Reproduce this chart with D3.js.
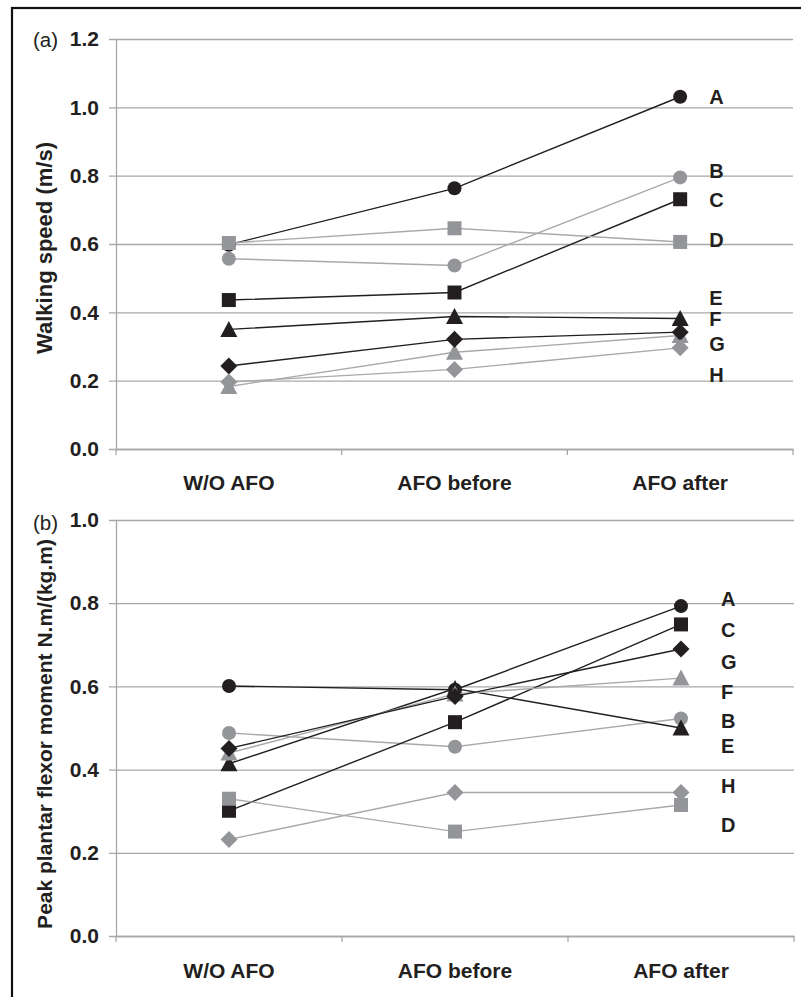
<!DOCTYPE html>
<html><head><meta charset="utf-8">
<script src="https://cdn.jsdelivr.net/npm/d3@7"></script>
<style>body{margin:0;background:#fff}svg{display:block;font-family:"Liberation Sans",Arial,Helvetica,sans-serif}</style>
</head><body>
<svg id="c" width="801" height="997"></svg>
<script>
// ---- data ----
const categories = ["W/O AFO", "AFO before", "AFO after"];
const seriesNames = ["A", "B", "C", "D", "E", "F", "G", "H"];
// Walking speed (m/s), panel (a)
const speedA = [0.598, 0.763, 1.031];
const speedB = [0.557, 0.537, 0.795];
const speedC = [0.436, 0.458, 0.731];
const speedD = [0.603, 0.646, 0.606];
const speedE = [0.350, 0.388, 0.382];
const speedF = [0.183, 0.283, 0.332];
const speedG = [0.243, 0.321, 0.342];
const speedH = [0.196, 0.233, 0.296];
// Peak plantar flexor moment N.m/(kg.m), panel (b)
const momentA = [0.601, 0.592, 0.793];
const momentB = [0.488, 0.455, 0.523];
const momentC = [0.301, 0.514, 0.749];
const momentD = [0.330, 0.251, 0.315];
const momentE = [0.414, 0.595, 0.500];
const momentF = [0.440, 0.582, 0.620];
const momentG = [0.451, 0.576, 0.690];
const momentH = [0.232, 0.345, 0.345];
// label positions (in data units) beside the last category
const speedLabelY = [1.030, 0.813, 0.729, 0.612, 0.442, 0.380, 0.309, 0.218];
const momentLabelY = [0.811, 0.518, 0.737, 0.268, 0.458, 0.588, 0.659, 0.362];
const speedTicks = [0, 0.2, 0.4, 0.6, 0.8, 1.0, 1.2];
const momentTicks = [0, 0.2, 0.4, 0.6, 0.8, 1.0];

const speedSeries = [speedA, speedB, speedC, speedD, speedE, speedF, speedG, speedH];
const momentSeries = [momentA, momentB, momentC, momentD, momentE, momentF, momentG, momentH];

// ---- styles ----
const BLACK = "#231f20", GRAY_M = "#939598", GRAY_L = "#a7a9ac", GRID = "#a8a8a8";
const style = {
  A: {shape: "circle", fill: BLACK, line: BLACK},
  B: {shape: "circle", fill: GRAY_M, line: GRAY_L},
  C: {shape: "square", fill: BLACK, line: BLACK},
  D: {shape: "square", fill: GRAY_M, line: GRAY_L},
  E: {shape: "triangle", fill: BLACK, line: BLACK},
  F: {shape: "triangle", fill: GRAY_M, line: GRAY_L},
  G: {shape: "diamond", fill: BLACK, line: BLACK},
  H: {shape: "diamond", fill: GRAY_M, line: GRAY_L}
};
function markerPath(shape) {
  if (shape === "circle") { const r = 7; return `M${-r},0A${r},${r} 0 1,0 ${r},0A${r},${r} 0 1,0 ${-r},0Z`; }
  if (shape === "square") { const h = 7; return `M${-h},${-h}H${h}V${h}H${-h}Z`; }
  if (shape === "triangle") { return `M0,-8.5L8.5,7.5L-8.5,7.5Z`; }
  const d = 8.5; return `M0,${-d}L${d},0L0,${d}L${-d},0Z`;
}

const svg = d3.select("#c");
// outer frame
svg.append("rect").attr("x", 12).attr("y", 8).attr("width", 820).attr("height", 1020)
  .attr("fill", "none").attr("stroke", "#111").attr("stroke-width", 2.2);

function panel(cfg) {
  const {left, right, top, bottom, domainMax, ticks, series, labelY, tag, title, titleX, labelOffset, catSpacing} = cfg;
  const g = svg.append("g");
  const x = d3.scaleBand().domain(categories).range([left, right]).padding(0);
  const y = d3.scaleLinear().domain([0, domainMax]).range([bottom, top]);

  // y axis with gridlines
  const ya = g.append("g").attr("transform", `translate(${left},0)`)
    .call(d3.axisLeft(y).tickValues(ticks).tickFormat(d3.format(".1f"))
      .tickSizeInner(-(right - left)).tickSizeOuter(0).tickPadding(17));
  ya.select(".domain").attr("stroke", GRID).attr("stroke-width", 1.3);
  ya.selectAll(".tick line").attr("x1", -7).attr("stroke", GRID).attr("stroke-width", 1.3);
  ya.selectAll(".tick text").attr("font-size", 21).attr("font-weight", "bold").attr("fill", BLACK)
    .attr("font-family", '"Liberation Sans",Arial,sans-serif');

  // x axis (labels at category centres, ticks at band edges)
  const xa = g.append("g").attr("transform", `translate(0,${bottom})`)
    .call(d3.axisBottom(x).tickSize(0).tickPadding(catSpacing));
  xa.select(".domain").attr("stroke", GRID).attr("stroke-width", 1.3);
  xa.selectAll(".tick text").attr("font-size", 21).attr("font-weight", "bold").attr("fill", BLACK)
    .attr("font-family", '"Liberation Sans",Arial,sans-serif');
  const edges = categories.map(c => x(c)).concat([x(categories[categories.length - 1]) + x.bandwidth()]);
  g.selectAll(".edge").data(edges).enter().append("line")
    .attr("x1", d => d).attr("x2", d => d).attr("y1", bottom).attr("y2", bottom + 6)
    .attr("stroke", GRID).attr("stroke-width", 1.3);

  // series
  const line = d3.line().x((d, i) => x(categories[i]) + x.bandwidth() / 2).y(d => y(d));
  seriesNames.forEach((name, si) => {
    const st = style[name];
    const vals = series[si];
    g.append("path").attr("d", line(vals)).attr("fill", "none")
      .attr("stroke", st.line).attr("stroke-width", 1.4);
    g.selectAll(null).data(vals).enter().append("path")
      .attr("transform", (d, i) => `translate(${x(categories[i]) + x.bandwidth() / 2},${y(d)})`)
      .attr("d", markerPath(st.shape)).attr("fill", st.fill);
  });

  // series labels
  const lx = x(categories[2]) + x.bandwidth() / 2 + labelOffset;
  g.selectAll(".lab").data(seriesNames).enter().append("text")
    .attr("x", lx).attr("y", (d, i) => y(labelY[i])).attr("dy", "0.36em")
    .attr("font-size", 20).attr("font-weight", "bold").attr("fill", BLACK).text(d => d);

  // panel tag
  g.append("text").attr("x", 33).attr("y", tag.y).attr("font-size", 20.5).attr("fill", BLACK).text(tag.text);

  // y title
  g.append("text").attr("transform", `translate(${titleX},${(top + bottom) / 2 + title.shift}) rotate(-90)`)
    .attr("text-anchor", "middle").attr("font-size", title.size).attr("font-weight", "bold")
    .attr("fill", BLACK).text(title.text);
}

panel({left: 116, right: 793, top: 39, bottom: 449, domainMax: 1.2, ticks: speedTicks,
  series: speedSeries, labelY: speedLabelY, tag: {text: "(a)", y: 47},
  title: {text: "Walking speed (m/s)", size: 22, shift: 4}, titleX: 51.5, labelOffset: 29, catSpacing: 26});
panel({left: 116, right: 794, top: 520, bottom: 936, domainMax: 1.0, ticks: momentTicks,
  series: momentSeries, labelY: momentLabelY, tag: {text: "(b)", y: 530},
  title: {text: "Peak plantar flexor moment N.m/(kg.m)", size: 21, shift: 6}, titleX: 52, labelOffset: 40, catSpacing: 27});
</script>
</body></html>
